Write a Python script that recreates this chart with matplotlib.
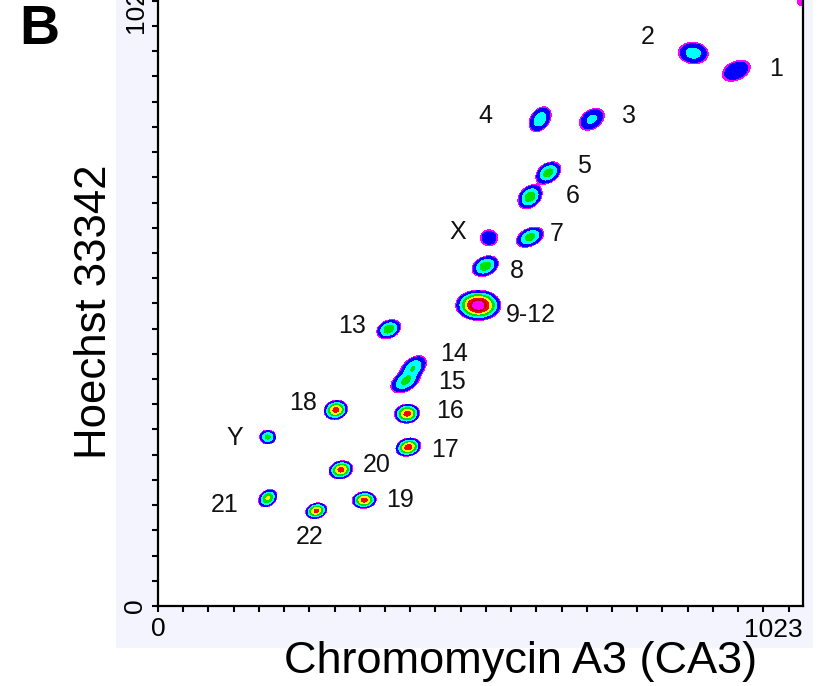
import numpy as np
import matplotlib.pyplot as plt
from matplotlib.patches import Rectangle

plt.rcParams['font.family'] = ['Liberation Sans', 'DejaVu Sans']

# flow karyotype: cluster centres in channel units (CA3, Hoechst 33342)
ca3 = [917, 849, 688, 606, 619, 590, 525, 590, 519, 508, 366, 405, 392,
       395, 397, 282, 174, 290, 174, 327, 251, 1022]
hoechst = [849, 877, 772, 772, 687, 649, 584, 585, 539, 477, 439, 378, 356,
           305, 252, 311, 268, 216, 171, 168, 151, 958]
# outer half-widths (long / short axis) in channels, tilt in degrees
half_long = [24, 24, 22, 22, 22, 22, 14, 23, 22, 36, 20, 24, 25,
             20, 20, 19, 13, 19, 16, 19, 17, 9]
half_short = [15, 17, 15, 15, 15, 16, 13, 14, 15, 24, 14, 15, 15,
              15, 14, 15, 11, 14, 12, 13, 12, 7]
tilt = [25, -5, 35, 55, 35, 45, 0, 25, 25, 0, 25, 40, 30,
        5, 15, 15, 0, 15, 40, 5, 15, 0]
peak = [3.5, 6, 5, 7, 11, 12, 3.2, 11, 12, 60, 12, 8, 9,
        30, 32, 30, 10, 30, 17, 30, 28, 1.3]

label_text = ['1', '2', '3', '4', '5', '6', 'X', '7', '8', '9-12', '13', '14',
              '15', '16', '17', '18', 'Y', '20', '21', '19', '22']
label_x = [980, 777, 747, 519, 676, 657, 476, 633, 569, 592, 308, 469,
           466, 463, 455, 230, 122, 347, 105, 384, 241]
label_y = [852, 902, 777, 777, 698, 650, 593, 590, 531, 462, 444, 400,
           355, 309, 247, 322, 266, 224, 160, 168, 109]

levels = [1, 1.5, 4, 8, 15, 24, 36, 46, 1e6]
level_colors = ['#ff00ff', '#0000ff', '#00ffff', '#00e000', '#ffff00',
                '#ff0000', '#c00000', '#ff00ff']

gx = np.arange(0, 1024, 2.0)
gy = np.arange(0, 1024, 2.0)
X, Y = np.meshgrid(gx, gy)
Z = np.zeros_like(X)
for cx, cy, a, b, t, p in zip(ca3, hoechst, half_long, half_short, tilt, peak):
    th = np.deg2rad(t)
    u = (X - cx) * np.cos(th) + (Y - cy) * np.sin(th)
    v = -(X - cx) * np.sin(th) + (Y - cy) * np.cos(th)
    k = np.sqrt(2 * np.log(p / 0.95))
    Z += p * np.exp(-0.5 * ((u / (a / k)) ** 2 + (v / (b / k)) ** 2))

fig = plt.figure(figsize=(8.18, 6.86), dpi=100)
fig.patches.append(Rectangle((0.1418, 0.0554), 0.852, 0.95, transform=fig.transFigure,
                             facecolor='#f4f4fe', edgecolor='none', zorder=-10))
ax = fig.add_axes([0.1932, 0.1166, 0.7885, 0.9402])
ax.set_facecolor('white')
ax.contourf(X, Y, Z, levels=levels, colors=level_colors)
for s, lx, ly in zip(label_text, label_x, label_y):
    ax.text(lx, ly, s, fontsize=18, ha='center', va='center', color='#111111')

ax.set_xlim(0, 1023)
ax.set_ylim(0, 1023)
ticks = list(range(0, 1001, 40))
ax.set_xticks(ticks)
ax.set_xticklabels(['0'] + [''] * (len(ticks) - 1))
ax.set_yticks(ticks)
ax.set_yticklabels(['0'] + [''] * (len(ticks) - 1), rotation=90, va='center')
ax.tick_params(direction='out', length=4, width=1.5, labelsize=19, pad=4)
for sp in ax.spines.values():
    sp.set_linewidth(1.6)
ax.text(1023, -0.018, '1023', fontsize=19, ha='right', va='top',
        transform=ax.get_xaxis_transform())
ax.text(-0.034, 909, '1023', fontsize=19, ha='center', va='bottom', rotation=90,
        transform=ax.get_yaxis_transform())

fig.text(0.636, 0.036, 'Chromomycin A3 (CA3)', fontsize=32.5, ha='center', va='center')
fig.text(0.116, 0.545, 'Hoechst 33342', fontsize=31.5, ha='center', va='center', rotation=90)
fig.text(0.048, 0.956, 'B', fontsize=40, fontweight='bold', ha='center', va='center')

fig.savefig('out.png', dpi=100)
